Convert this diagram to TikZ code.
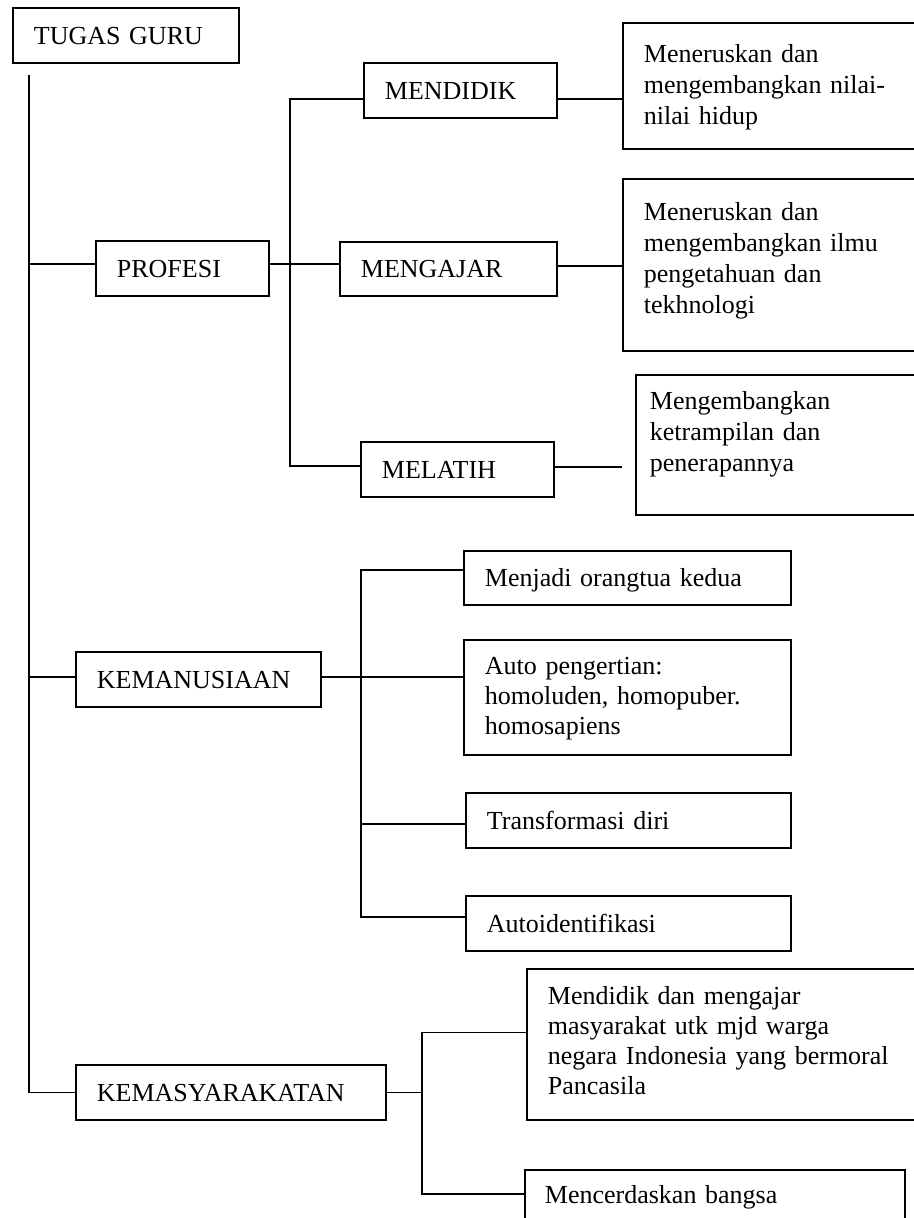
\documentclass[tikz,border=0pt]{standalone}
\usepackage{fontspec}
\setmainfont{Liberation Serif}
\usetikzlibrary{calc}
\begin{document}
\begin{tikzpicture}[x=1pt,y=-1pt,
  bx/.style={draw, line width=1.8pt, anchor=north west, inner ysep=0pt, inner xsep=21pt,
             align=left, font=\fontsize{26}{31}\selectfont},
  ln/.style={line width=1.4pt},
  one/.style={text height=36.5pt, text depth=18.5pt}]
\useasboundingbox (0,0) rectangle (913,1218);

% ---- boxes ----
\node[bx, one, text width=184pt] (tugas) at (12,7) {TUGAS GURU};
\node[bx, one, text width=131pt] (profesi) at (95,240) {PROFESI};
\node[bx, one, text width=151pt] (mendidik) at (363,62) {MENDIDIK};
\node[bx, text width=175pt, text height=36pt, text depth=18pt] (mengajar) at (339,241) {MENGAJAR};
\node[bx, one, text width=151pt] (melatih) at (360,441) {MELATIH};
\node[bx, text width=258pt, text height=40pt, text depth=86pt] (b1) at (622,22)
  {Meneruskan dan\\mengembangkan nilai-\\nilai hidup};
\node[bx, text width=258pt, text height=42pt, text depth=130pt] (b2) at (622,178)
  {Meneruskan dan\\mengembangkan ilmu\\pengetahuan dan\\tekhnologi};
\node[bx, inner xsep=14pt, text width=262pt, text height=35pt, text depth=105pt] (b3) at (635,374)
  {Mengembangkan\\ketrampilan dan\\penerapannya};

\node[bx, one, text width=203pt] (kemanusiaan) at (75,651) {KEMANUSIAAN};
\node[bx, text width=285pt, text height=36pt, text depth=18pt] (menjadi) at (463,550) {Menjadi orangtua kedua};
\node[bx, font=\fontsize{26}{30}\selectfont, text width=285pt, text height=35pt, text depth=80pt] (auto) at (463,639)
  {Auto pengertian:\\homoluden, homopuber.\\homosapiens};
\node[bx, one, text width=283pt] (trans) at (465,792) {Transformasi diri};
\node[bx, one, text width=283pt] (autoid) at (465,895) {Autoidentifikasi};

\node[bx, one, text width=268pt] (kemasy) at (75,1064) {KEMASYARAKATAN};
\node[bx, font=\fontsize{26}{30}\selectfont, text width=358pt, text height=36pt, text depth=115pt] (b4) at (526,968)
  {Mendidik dan mengajar\\masyarakat utk mjd warga\\negara Indonesia yang bermoral\\Pancasila};
\node[bx, inner xsep=20pt, text width=340pt, text height=34pt, text depth=47pt] (cerdas) at (524,1169)
  {Mencerdaskan bangsa};

% ---- connectors ----
\coordinate (j0) at (29,75);
\draw[ln] (j0) |- (kemasy.west);

% PROFESI
\coordinate (pm) at ($(mengajar.west)+(0,-5)$);
\draw[ln] (j0 |- pm) -- (pm -| profesi.west);
\draw[ln] (pm -| profesi.east) -- (pm);
\coordinate (v1) at (290,0);
\coordinate (md) at ($(mendidik.west)+(0,8.5)$);
\coordinate (ml) at ($(melatih.west)+(0,-3.5)$);
\draw[ln] (md) -- (v1 |- md) -- (v1 |- ml) -- (ml);
\coordinate (mr) at ($(mendidik.east)+(0,8.5)$);
\draw[ln] (mr) -- (mr -| b1.west);
\coordinate (gr) at ($(mengajar.east)+(0,-3)$);
\draw[ln] (gr) -- (gr -| b2.west);
\coordinate (e3) at ($(b3.west)+(-13,22)$);
\draw[ln] (e3 -| melatih.east) -- (e3);

% KEMANUSIAAN
\coordinate (kw) at ($(kemanusiaan.west)+(0,-2.5)$);
\draw[ln] (j0 |- kw) -- (kw);
\draw[ln] (kw -| kemanusiaan.east) -- (kw -| auto.west);
\coordinate (v2) at (361,0);
\coordinate (mj) at ($(menjadi.west)+(0,-8)$);
\coordinate (ai) at ($(autoid.west)+(0,-6.5)$);
\draw[ln] (mj) -- (v2 |- mj) -- (v2 |- ai) -- (ai);
\coordinate (tr) at ($(trans.west)+(0,3.5)$);
\draw[ln] (tr) -- (v2 |- tr);

% KEMASYARAKATAN
\coordinate (v3) at (422,0);
\draw[ln] (kemasy.east) -- (v3 |- kemasy.east);
\coordinate (b4l) at ($(b4.west)+(0,-12)$);
\coordinate (cl) at ($(cerdas.base west)+(0,-10)$);
\draw[ln] (b4l) -- (v3 |- b4l) -- (v3 |- cl) -- (cl);
\end{tikzpicture}
\end{document}
